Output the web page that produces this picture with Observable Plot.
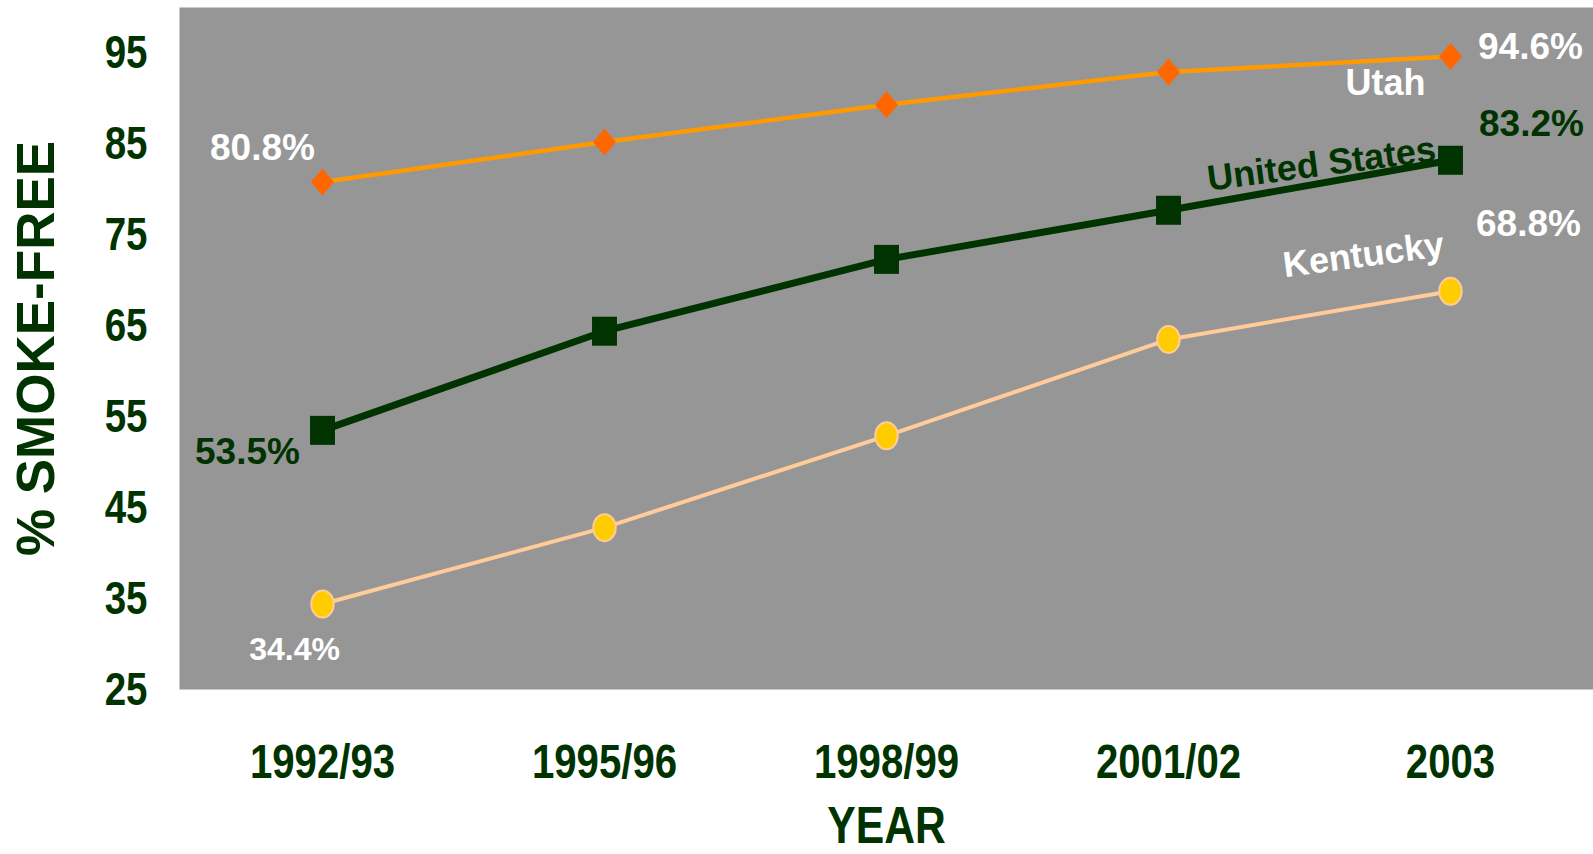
<!DOCTYPE html>
<html>
<head>
<meta charset="utf-8">
<script src="https://cdn.jsdelivr.net/npm/d3@7"></script>
<script src="https://cdn.jsdelivr.net/npm/@observablehq/plot@0.6"></script>
<style>
  html, body { margin: 0; padding: 0; background: #ffffff; }
  #chart svg { display: block; }
</style>
</head>
<body>
<div id="chart"></div>
<script>
// ---- data ----
const years = ["1992/93", "1995/96", "1998/99", "2001/02", "2003"];
const utah = [80.8, 85.2, 89.3, 92.9, 94.6];
const unitedStates = [53.5, 64.4, 72.3, 77.7, 83.2];
const kentucky = [34.4, 42.8, 52.9, 63.5, 68.8];
const yTicks = [25, 35, 45, 55, 65, 75, 85, 95];
const seriesNames = ["Utah", "United States", "Kentucky"];
const yDomain = [25, 100];
const yTitle = "% SMOKE-FREE";
const xTitle = "YEAR";

// ---- helpers ----
const toRows = (name, vals) => years.map((year, i) => ({series: name, year, value: vals[i]}));
const utahRows = toRows(seriesNames[0], utah);
const usRows = toRows(seriesNames[1], unitedStates);
const kyRows = toRows(seriesNames[2], kentucky);
const first = (rows) => [rows[0]];
const last = (rows) => [rows[rows.length - 1]];
const pct = (d) => `${d.value.toFixed(1)}%`;

// stretched marker shapes (taller than wide, like the reference)
function stretched(shape, aspect) {
  return {
    draw(ctx, size) {
      const r = Math.sqrt(size / Math.PI), w = r * aspect, k = 0.5523;
      if (shape === "square") {
        ctx.moveTo(-w, -r); ctx.lineTo(w, -r); ctx.lineTo(w, r); ctx.lineTo(-w, r); ctx.closePath();
      } else if (shape === "diamond") {
        ctx.moveTo(0, -r); ctx.lineTo(w, 0); ctx.lineTo(0, r); ctx.lineTo(-w, 0); ctx.closePath();
      } else {
        ctx.moveTo(w, 0);
        ctx.bezierCurveTo(w, k * r, k * w, r, 0, r);
        ctx.bezierCurveTo(-k * w, r, -w, k * r, -w, 0);
        ctx.bezierCurveTo(-w, -k * r, -k * w, -r, 0, -r);
        ctx.bezierCurveTo(k * w, -r, w, -k * r, w, 0);
        ctx.closePath();
      }
    }
  };
}

const DARK = "#003300";
const SANS = "'Liberation Sans', Arial, sans-serif";

const lbl = (data, text, opts) => Plot.text(data, {
  x: "year", y: "value", text,
  fontFamily: SANS, fontWeight: "bold", fontSize: 37,
  textAnchor: "middle", lineAnchor: "middle",
  ...opts
});

const chart = Plot.plot({
  width: 1593,
  height: 854,
  marginLeft: 179,
  marginRight: 0,
  marginTop: 7,
  marginBottom: 165,
  style: {color: DARK, background: "#ffffff", fontFamily: SANS},
  x: {type: "point", domain: years, padding: 0.5},
  y: {domain: yDomain},
  marks: [
    Plot.frame({fill: "#969696", stroke: "none"}),
    Plot.axisY({
      ticks: yTicks, tickSize: 0, tickPadding: 32, label: null,
      fontSize: 47, fontFamily: SANS, fontWeight: "bold", fill: DARK
    }),
    Plot.axisX({
      tickSize: 0, tickPadding: 54, label: null,
      fontSize: 49, fontFamily: SANS, fontWeight: "bold", fill: DARK
    }),
    // axis titles
    Plot.text([yTitle], {
      frameAnchor: "left", dx: -142, rotate: -90, text: (d) => d,
      fontSize: 53, fontWeight: "bold", fontFamily: SANS, fill: DARK,
      textAnchor: "middle", lineAnchor: "middle"
    }),
    Plot.text([xTitle], {
      frameAnchor: "bottom", dy: 137, text: (d) => d,
      fontSize: 52, fontWeight: "bold", fontFamily: SANS, fill: DARK,
      textAnchor: "middle", lineAnchor: "middle"
    }),
    // lines
    Plot.line(kyRows, {x: "year", y: "value", stroke: "#FFCC99", strokeWidth: 4}),
    Plot.line(utahRows, {x: "year", y: "value", stroke: "#FF9900", strokeWidth: 4.5}),
    Plot.line(usRows, {x: "year", y: "value", stroke: DARK, strokeWidth: 7}),
    // markers
    Plot.dot(kyRows, {x: "year", y: "value", r: 13.5, symbol: stretched("ellipse", 0.83),
      fill: "#FFCC00", stroke: "#FFCC99", strokeWidth: 2}),
    Plot.dot(utahRows, {x: "year", y: "value", r: 13.5, symbol: stretched("diamond", 0.85),
      fill: "#FF6600", stroke: "none"}),
    Plot.dot(usRows, {x: "year", y: "value", r: 14.5, symbol: stretched("square", 0.86),
      fill: DARK, stroke: "none"}),
    // value labels
    lbl(first(utahRows), pct, {fill: "#ffffff", dx: -60, dy: -34}),
    lbl(last(utahRows), pct, {fill: "#ffffff", dx: 80, dy: -9}),
    lbl(first(usRows), pct, {fill: DARK, dx: -75, dy: 22}),
    lbl(last(usRows), pct, {fill: DARK, dx: 81, dy: -36}),
    lbl(first(kyRows), pct, {fill: "#ffffff", dx: -28, dy: 46, fontSize: 32}),
    lbl(last(kyRows), pct, {fill: "#ffffff", dx: 78, dy: -67}),
    // series name labels
    lbl(last(utahRows), (d) => d.series, {fill: "#ffffff", dx: -65, dy: 27, fontSize: 36}),
    lbl(last(usRows), (d) => d.series, {fill: DARK, dx: -129, dy: 4, fontSize: 36, rotate: -7.5}),
    lbl(last(kyRows), (d) => d.series, {fill: "#ffffff", dx: -87, dy: -36, fontSize: 36, rotate: -7.5})
  ]
});

// Condense axis tick labels and the x title horizontally (Arial Narrow look)
const narrowTexts = [
  ...chart.querySelectorAll('g[aria-label="y-axis tick label"] text, g[aria-label="x-axis tick label"] text'),
  ...[...chart.querySelectorAll("text")].filter((t) => t.textContent === xTitle)
];
narrowTexts.forEach((t) => {
  const tr = t.getAttribute("transform") || "";
  t.setAttribute("transform", `${tr} scale(0.82,1)`.trim());
});

document.getElementById("chart").appendChild(chart);
</script>
</body>
</html>
